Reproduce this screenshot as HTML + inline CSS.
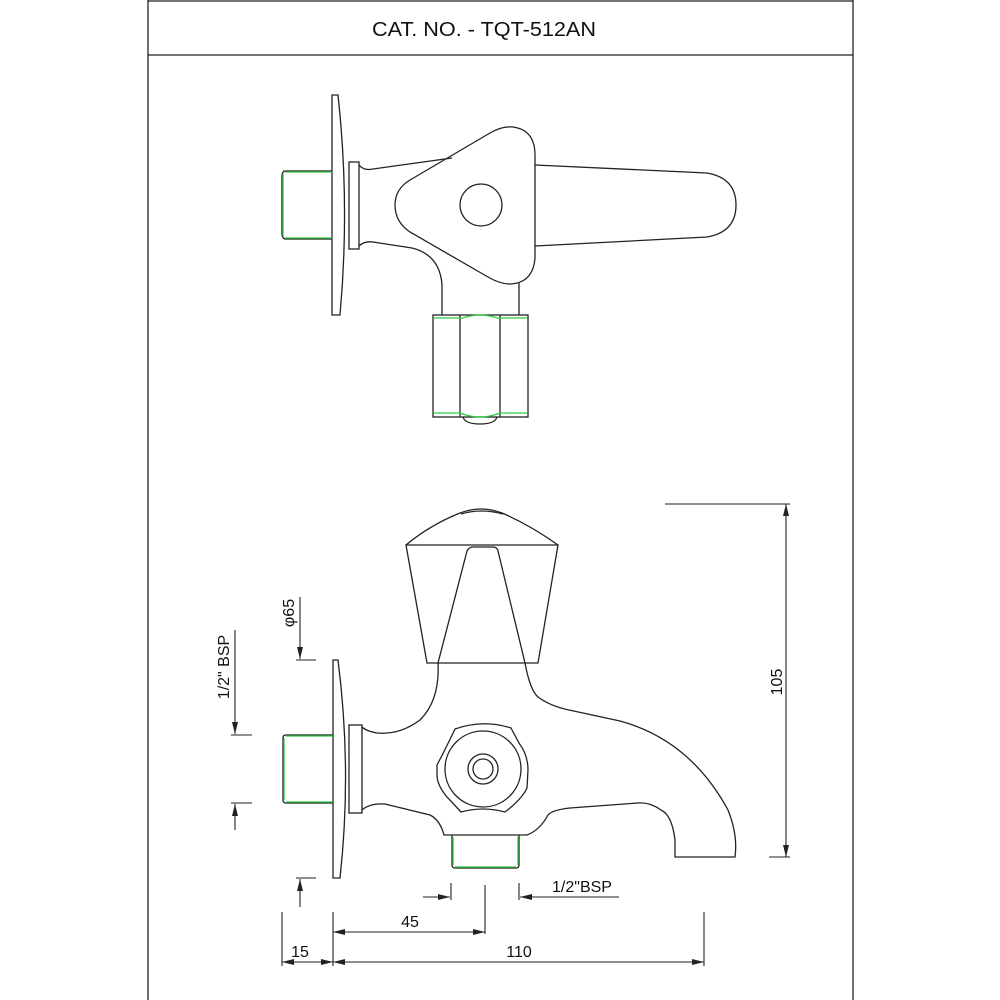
<!DOCTYPE html>
<html><head><meta charset="utf-8"><style>
html,body{margin:0;padding:0;background:#fff;}
svg{display:block;}
text{font-family:"Liberation Sans",sans-serif;fill:#111;}
</style></head><body>
<svg width="1000" height="1000" viewBox="0 0 1000 1000" xmlns="http://www.w3.org/2000/svg">
<g fill="none" stroke="#222" stroke-width="1.3">
<!-- frame -->
<line x1="148" y1="0" x2="148" y2="1000"/>
<line x1="853" y1="0" x2="853" y2="1000"/>
<line x1="148" y1="1" x2="853" y2="1"/>
<line x1="148" y1="55" x2="853" y2="55"/>

<!-- ===== TOP VIEW ===== -->
<!-- flange -->
<path d="M332,95 L338,95 Q350,205 340,315 L332,315 Z"/>
<!-- collar -->
<rect x="349" y="162" width="10" height="87"/>
<!-- green nipple -->
<path d="M332,171 L284,171 Q282,173 282,176 L282,234 Q282,238 285,239 L332,239" stroke="#222"/>
<line x1="285" y1="172" x2="332" y2="172" stroke="#2ecc40"/>
<line x1="285" y1="238" x2="332" y2="238" stroke="#2ecc40"/>
<line x1="283" y1="174" x2="283" y2="236" stroke="#2ecc40"/>
<!-- body upper -->
<path d="M359,165 Q364,171 373,169 L452,158"/>
<!-- body lower -->
<path d="M359,246 Q364,241 373,242 L412,248 Q440,255 442,285 L442,315"/>
<line x1="519" y1="283" x2="519" y2="315"/>
<!-- triangle knob -->
<path d="M513,127 Q535,130 535,155 L535,258 Q533,283 510,284 Q500,284 488,277 L410,232 Q395,222 395,205 Q395,189 410,180 L490,133 Q502,126 513,127 Z"/>
<circle cx="481" cy="205" r="21"/>
<!-- handle -->
<path d="M535,165 L707,173 Q736,178 736,205 Q736,232 707,237 L535,246"/>
<!-- hex nut -->
<rect x="433" y="315" width="95" height="102"/>
<line x1="460" y1="315" x2="460" y2="417"/>
<line x1="500" y1="315" x2="500" y2="417"/>
<path d="M460,319 Q480,311 500,319" stroke="#2ecc40"/>
<path d="M460,413 Q480,421 500,413" stroke="#2ecc40"/>
<line x1="434" y1="318" x2="460" y2="318" stroke="#2ecc40"/>
<line x1="500" y1="318" x2="527" y2="318" stroke="#2ecc40"/>
<line x1="434" y1="413" x2="460" y2="413" stroke="#2ecc40"/>
<line x1="500" y1="413" x2="527" y2="413" stroke="#2ecc40"/>
<path d="M463,417 Q465,424 480,424 Q495,424 497,417"/>

<!-- ===== FRONT VIEW ===== -->
<!-- knob cap -->
<path d="M406,545 Q430,525 460,513 Q481,505 502,513 Q530,525 558,545"/>
<path d="M461,514 Q481,508 503,514"/>
<!-- knob trapezoid -->
<path d="M406,545 L558,545 L538,663 L427,663 Z"/>
<path d="M438,663 L467,551 Q469,547 473,547 L493,547 Q497,547 498,551 L525,663"/>
<!-- flange -->
<path d="M333,660 L338,660 Q352,770 340,878 L333,878 Z"/>
<!-- collar -->
<rect x="349" y="725" width="13" height="88"/>
<!-- green nipple -->
<path d="M333,735 L286,735 Q283,735 283,738 L283,800 Q283,803 286,803 L333,803"/>
<line x1="286" y1="736" x2="333" y2="736" stroke="#2ecc40"/>
<line x1="286" y1="802" x2="333" y2="802" stroke="#2ecc40"/>
<line x1="284" y1="738" x2="284" y2="800" stroke="#2ecc40"/>
<!-- body -->
<path d="M438,663 Q440,700 420,720 Q400,735 377,733 Q366,731 362,727"/>
<path d="M525,663 Q530,690 538,697 Q550,706 569,710 L620,721 Q690,740 728,810 Q738,835 735,857 L675,857 L675,840 Q672,815 661,810 Q650,802 638,803 L570,808 Q552,810 548,815 Q540,830 527,835 L444,835 Q440,820 430,815 L385,804 Q370,803 362,810"/>
<!-- bottom nipple -->
<path d="M452,835 L452,865 Q452,868 455,868 L516,868 Q519,868 519,865 L519,835"/>
<line x1="455" y1="867" x2="516" y2="867" stroke="#2ecc40"/>
<line x1="453" y1="837" x2="453" y2="865" stroke="#2ecc40"/>
<line x1="518" y1="837" x2="518" y2="865" stroke="#2ecc40"/>
<!-- nut -->
<path d="M455,729 Q483,719 511,728 L519,743 Q528,755 528,770 L527,788 Q522,799 505,812 Q483,806 461,812 L447,797 Q437,785 437,775 L437,765 Q445,750 455,729 Z"/>
<circle cx="483" cy="769" r="38"/>
<circle cx="483" cy="769" r="15"/>
<circle cx="483" cy="769" r="10"/>

<!-- dimensions -->
<g stroke-width="1.1">
<!-- 105 -->
<line x1="665" y1="504" x2="790" y2="504"/>
<line x1="769" y1="857" x2="790" y2="857"/>
<line x1="786" y1="504" x2="786" y2="857"/>
<!-- phi65 -->
<line x1="300" y1="597" x2="300" y2="659"/>
<line x1="296" y1="660" x2="316" y2="660"/>
<line x1="296" y1="878" x2="316" y2="878"/>
<line x1="300" y1="879" x2="300" y2="907"/>
<!-- left bsp -->
<line x1="235" y1="630" x2="235" y2="734"/>
<line x1="231" y1="735" x2="252" y2="735"/>
<line x1="231" y1="803" x2="252" y2="803"/>
<line x1="235" y1="804" x2="235" y2="830"/>
<!-- bottom bsp -->
<line x1="451" y1="883" x2="451" y2="900"/>
<line x1="519" y1="883" x2="519" y2="900"/>
<line x1="423" y1="897" x2="450" y2="897"/>
<line x1="520" y1="897" x2="619" y2="897"/>
<!-- 45 / 110 / 15 -->
<line x1="282" y1="912" x2="282" y2="966"/>
<line x1="333" y1="912" x2="333" y2="966"/>
<line x1="485" y1="885" x2="485" y2="934"/>
<line x1="704" y1="912" x2="704" y2="966"/>
<line x1="333" y1="932" x2="485" y2="932"/>
<line x1="333" y1="962" x2="704" y2="962"/>
<line x1="282" y1="962" x2="333" y2="962"/>
</g>
</g>
<!-- arrowheads -->
<g fill="#222">
<path d="M786,504 l-3,12 l6,0 Z"/>
<path d="M786,857 l-3,-12 l6,0 Z"/>
<path d="M300,659 l-3,-12 l6,0 Z"/>
<path d="M300,879 l-3,12 l6,0 Z"/>
<path d="M235,734 l-3,-12 l6,0 Z"/>
<path d="M235,804 l-3,12 l6,0 Z"/>
<path d="M450,897 l-12,-3 l0,6 Z"/>
<path d="M520,897 l12,-3 l0,6 Z"/>
<path d="M333,932 l12,-3 l0,6 Z"/>
<path d="M485,932 l-12,-3 l0,6 Z"/>
<path d="M333,962 l12,-3 l0,6 Z"/>
<path d="M704,962 l-12,-3 l0,6 Z"/>
<path d="M282,962 l12,-3 l0,6 Z"/>
<path d="M333,962 l-12,-3 l0,6 Z"/>
</g>
<!-- text -->
<text x="484" y="36" font-size="20" text-anchor="middle" textLength="224" lengthAdjust="spacingAndGlyphs">CAT. NO. - TQT-512AN</text>
<text x="0" y="0" font-size="16" text-anchor="middle" transform="translate(782,682) rotate(-90)">105</text>
<text x="0" y="0" font-size="16" text-anchor="middle" transform="translate(294,613) rotate(-90)">φ65</text>
<text x="0" y="0" font-size="16" text-anchor="middle" transform="translate(229,667) rotate(-90)">1/2" BSP</text>
<text x="582" y="892" font-size="16" text-anchor="middle">1/2"BSP</text>
<text x="410" y="927" font-size="16" text-anchor="middle">45</text>
<text x="519" y="957" font-size="16" text-anchor="middle">110</text>
<text x="300" y="957" font-size="16" text-anchor="middle">15</text>
</svg>
</body></html>
